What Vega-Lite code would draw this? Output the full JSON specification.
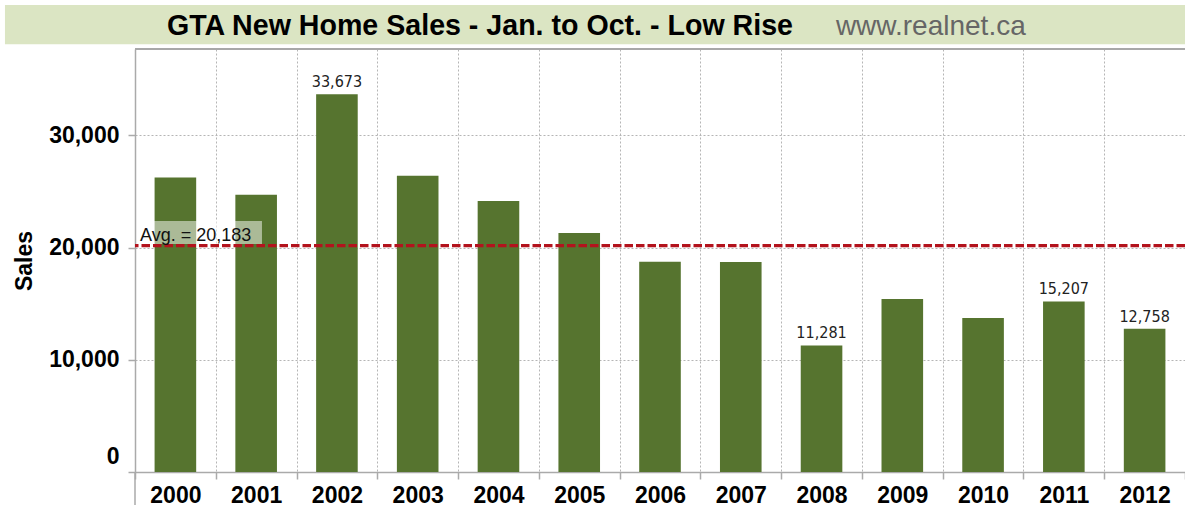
{
  "$schema": "https://vega.github.io/schema/vega-lite/v6.json",
  "width": 1050,
  "height": 423,
  "autosize": {"type": "none"},
  "padding": {"left": 135, "top": 49, "right": 0, "bottom": 34},
  "background": "white",
  "config": {"view": {"stroke": null}, "font": "Liberation Sans"},
  "layer": [
    {
      "data": {
        "values": [
          {"year": "2000", "sales": 26250},
          {"year": "2001", "sales": 24700},
          {"year": "2002", "sales": 33673},
          {"year": "2003", "sales": 26400},
          {"year": "2004", "sales": 24150},
          {"year": "2005", "sales": 21300},
          {"year": "2006", "sales": 18730},
          {"year": "2007", "sales": 18720},
          {"year": "2008", "sales": 11281},
          {"year": "2009", "sales": 15420},
          {"year": "2010", "sales": 13730},
          {"year": "2011", "sales": 15207},
          {"year": "2012", "sales": 12758}
        ]
      },
      "layer": [
        {
          "mark": {"type": "bar", "color": "#56742f", "width": {"band": 0.515}},
          "encoding": {
            "x": {
              "field": "year",
              "type": "ordinal",
              "scale": {"paddingInner": 0, "paddingOuter": 0},
              "axis": {
                "title": null,
                "labelFont": "Liberation Sans",
                "labelFontSize": 23,
                "labelFontWeight": "bold",
                "labelColor": "black",
                "labelAngle": 0,
                "labelPadding": 5,
                "tickSize": 7,
                "tickColor": "#aaaaaa",
                "tickWidth": 1.5,
                "tickBand": "extent",
                "domainColor": "#aaaaaa",
                "domainWidth": 1.5,
                "grid": true,
                "gridColor": "#b5b5b5",
                "gridDash": [2, 2],
                "gridWidth": 1
              }
            },
            "y": {
              "field": "sales",
              "type": "quantitative",
              "scale": {"domain": [0, 37700], "nice": false},
              "axis": {
                "values": [0, 10000, 20000, 30000],
                "format": ",d",
                "title": "Sales",
                "titleFont": "Liberation Sans",
                "titleFontSize": 23,
                "titleFontWeight": "bold",
                "titleColor": "black",
                "titlePadding": 12,
                "labelFont": "Liberation Sans",
                "labelFontSize": 23,
                "labelFontWeight": "bold",
                "labelColor": "black",
                "labelPadding": 9,
                "labelFlush": true,
                "labelFlushOffset": -4,
                "tickSize": 7,
                "tickColor": "#aaaaaa",
                "tickWidth": 1.5,
                "domainColor": "#aaaaaa",
                "domainWidth": 1.5,
                "grid": true,
                "gridColor": "#b5b5b5",
                "gridDash": [2, 2],
                "gridWidth": 1
              }
            }
          }
        },
        {
          "transform": [{"filter": {"field": "year", "oneOf": ["2002", "2008", "2011", "2012"]}}],
          "mark": {
            "type": "text",
            "font": "DejaVu Sans Condensed, Liberation Sans, sans-serif",
            "fontSize": 16,
            "color": "#222222",
            "baseline": "alphabetic",
            "dy": -7
          },
          "encoding": {
            "x": {"field": "year", "type": "ordinal"},
            "y": {"field": "sales", "type": "quantitative"},
            "text": {"field": "sales", "type": "quantitative", "format": ",d"}
          }
        },
        {
          "data": {"values": [{}]},
          "mark": {"type": "rule", "color": "#b3131d", "strokeWidth": 3.2, "strokeDash": [8.5, 3]},
          "encoding": {"y": {"datum": 20183, "type": "quantitative"}}
        },
        {
          "data": {"values": [{}]},
          "mark": {"type": "rule", "color": "#a8a8a8", "strokeWidth": 2},
          "encoding": {"y": {"datum": 37700, "type": "quantitative"}}
        }
      ]
    },
    {
      "data": {"values": [{}]},
      "layer": [
        {
          "mark": {"type": "rect", "color": "#dbe5c3"},
          "encoding": {
            "x": {"datum": -1.61, "type": "quantitative", "scale": {"domain": [0, 13], "nice": false, "zero": false}, "axis": null},
            "x2": {"datum": 13.05},
            "y": {"datum": 41620, "type": "quantitative", "scale": {"domain": [0, 37700], "nice": false}, "axis": null},
            "y2": {"datum": 38120}
          }
        },
        {
          "mark": {"type": "text", "text": "GTA New Home Sales - Jan. to Oct. - Low Rise", "font": "Liberation Sans", "fontSize": 28.6, "fontWeight": "bold", "color": "black", "align": "center", "baseline": "alphabetic"},
          "encoding": {
            "x": {"datum": 4.271, "type": "quantitative", "axis": null},
            "y": {"datum": 38947, "type": "quantitative", "axis": null}
          }
        },
        {
          "mark": {"type": "text", "text": "www.realnet.ca", "font": "Liberation Sans", "fontSize": 28, "color": "#666666", "align": "center", "baseline": "alphabetic"},
          "encoding": {
            "x": {"datum": 9.853, "type": "quantitative", "axis": null},
            "y": {"datum": 38947, "type": "quantitative", "axis": null}
          }
        },
        {
          "mark": {"type": "rect", "color": "white", "opacity": 0.5},
          "encoding": {
            "x": {"datum": 0.025, "type": "quantitative", "axis": null},
            "x2": {"datum": 1.572},
            "y": {"datum": 22370, "type": "quantitative", "axis": null},
            "y2": {"datum": 20320}
          }
        },
        {
          "mark": {"type": "text", "text": "Avg. = 20,183", "font": "Liberation Sans", "fontSize": 18, "color": "#111111", "align": "left", "baseline": "alphabetic", "dy": -5},
          "encoding": {
            "x": {"datum": 0.062, "type": "quantitative", "axis": null},
            "y": {"datum": 20183, "type": "quantitative", "axis": null}
          }
        },
        {
          "mark": {"type": "rule", "color": "#aaaaaa", "strokeWidth": 1.5},
          "encoding": {
            "x": {"datum": 0, "type": "quantitative", "axis": null},
            "y": {"datum": 0, "type": "quantitative", "axis": null},
            "y2": {"datum": -2950}
          }
        }
      ]
    }
  ],
  "resolve": {"scale": {"x": "independent", "y": "independent"}}
}
